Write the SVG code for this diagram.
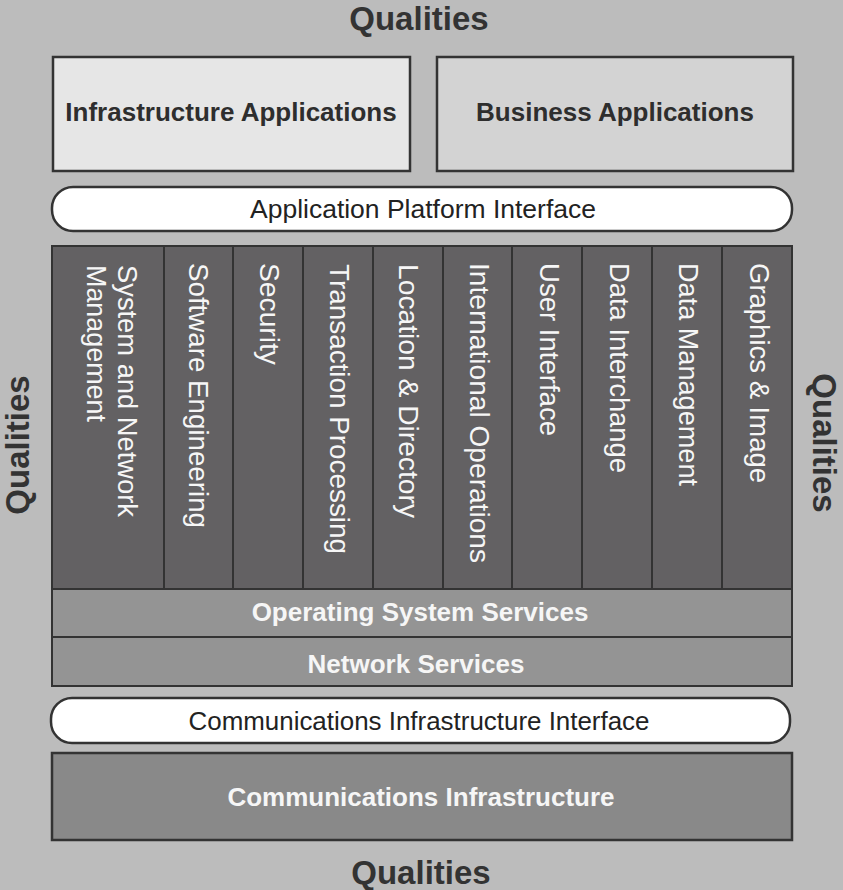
<svg xmlns="http://www.w3.org/2000/svg" width="843" height="890" viewBox="0 0 843 890">
<style>
.bg{fill:#bcbcbc}
.box{stroke:#333;stroke-width:2.5}
.q{font-family:"Liberation Sans",Arial,sans-serif;font-weight:bold;font-size:33px;fill:#333}
.lbl{font-family:"Liberation Sans",Arial,sans-serif;font-weight:bold;font-size:26px;fill:#2e2e2e;text-anchor:middle}
.reg{font-family:"Liberation Sans",Arial,sans-serif;font-size:25px;fill:#222;text-anchor:middle}
.wb{font-family:"Liberation Sans",Arial,sans-serif;font-weight:bold;font-size:26px;fill:#f6f6f6;text-anchor:middle}
.col{fill:#636163;stroke:#333;stroke-width:2}
.vt{font-family:"Liberation Sans",Arial,sans-serif;font-size:27px;fill:#f6f6f6}
</style>
<rect class="bg" x="0" y="0" width="843" height="890"/>
<g id="qualities">
<text class="q" x="419" y="30" text-anchor="middle">Qualities</text>
<text class="q" x="421" y="884" text-anchor="middle">Qualities</text>
<text class="q" transform="translate(29,445) rotate(-90)" text-anchor="middle">Qualities</text>
<text class="q" transform="translate(813,443) rotate(90)" text-anchor="middle">Qualities</text>
</g>
<g id="infra-apps">
<rect class="box" x="53" y="57" width="357" height="114" fill="#e6e6e6"/>
<text class="lbl" x="231" y="121">Infrastructure Applications</text>
</g>
<g id="business-apps">
<rect class="box" x="437" y="57" width="356" height="114" fill="#d3d3d3"/>
<text class="lbl" x="615" y="121">Business Applications</text>
</g>
<g id="api">
<rect class="box" x="52" y="187" width="740" height="44" rx="21" fill="#ffffff" stroke-width="2"/>
<text class="reg" x="423" y="218" textLength="346" lengthAdjust="spacingAndGlyphs">Application Platform Interface</text>
</g>
<g id="services">
<rect class="col" x="52" y="246" width="112" height="343"/>
<rect class="col" x="164" y="246" width="69" height="343"/>
<rect class="col" x="233" y="246" width="70" height="343"/>
<rect class="col" x="303" y="246" width="70" height="343"/>
<rect class="col" x="373" y="246" width="70" height="343"/>
<rect class="col" x="443" y="246" width="69" height="343"/>
<rect class="col" x="512" y="246" width="70" height="343"/>
<rect class="col" x="582" y="246" width="70" height="343"/>
<rect class="col" x="652" y="246" width="70" height="343"/>
<rect class="col" x="722" y="246" width="70" height="343"/>
<text class="vt" transform="translate(118,265) rotate(90)" textLength="252" lengthAdjust="spacingAndGlyphs">System and Network</text>
<text class="vt" transform="translate(87,265) rotate(90)" textLength="157" lengthAdjust="spacingAndGlyphs">Management</text>
<text class="vt" transform="translate(189,263) rotate(90)" textLength="265" lengthAdjust="spacingAndGlyphs">Software Engineering</text>
<text class="vt" transform="translate(260,263) rotate(90)" textLength="102" lengthAdjust="spacingAndGlyphs">Security</text>
<text class="vt" transform="translate(330,264) rotate(90)" textLength="290" lengthAdjust="spacingAndGlyphs">Transaction Processing</text>
<text class="vt" transform="translate(399,264) rotate(90)" textLength="254" lengthAdjust="spacingAndGlyphs">Location &amp; Directory</text>
<text class="vt" transform="translate(470,263) rotate(90)" textLength="300" lengthAdjust="spacingAndGlyphs">International Operations</text>
<text class="vt" transform="translate(540,263) rotate(90)" textLength="173" lengthAdjust="spacingAndGlyphs">User Interface</text>
<text class="vt" transform="translate(610,263) rotate(90)" textLength="210" lengthAdjust="spacingAndGlyphs">Data Interchange</text>
<text class="vt" transform="translate(679,263) rotate(90)" textLength="223" lengthAdjust="spacingAndGlyphs">Data Management</text>
<text class="vt" transform="translate(750,263) rotate(90)" textLength="220" lengthAdjust="spacingAndGlyphs">Graphics &amp; Image</text>
</g>
<g id="os-services">
<rect x="52" y="589" width="740" height="48" fill="#949494" stroke="#333" stroke-width="2"/>
<text class="wb" x="420" y="621">Operating System Services</text>
</g>
<g id="network-services">
<rect x="52" y="637" width="740" height="49" fill="#949494" stroke="#333" stroke-width="2"/>
<text class="wb" x="416" y="673">Network Services</text>
</g>
<g id="cii">
<rect class="box" x="51" y="698" width="739" height="45" rx="21" fill="#ffffff" stroke-width="2"/>
<text class="reg" x="419" y="730" textLength="461" lengthAdjust="spacingAndGlyphs">Communications Infrastructure Interface</text>
</g>
<g id="comm-infra">
<rect x="52" y="753" width="740" height="87" fill="#898989" stroke="#333" stroke-width="2.5"/>
<text class="wb" x="421" y="806">Communications Infrastructure</text>
</g>
<g id="connectors"/>
</svg>
